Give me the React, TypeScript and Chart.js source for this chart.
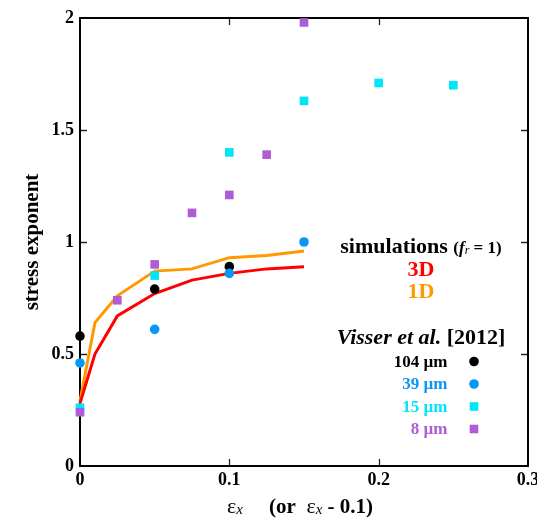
import React, { useEffect, useRef } from 'react';
import { Chart, registerables } from 'chart.js';

Chart.register(...registerables);

// ---- data ----
const simX = [0, 0.01, 0.025, 0.05, 0.075, 0.1, 0.125, 0.15];
const sim3D = [0.28, 0.5, 0.67, 0.77, 0.83, 0.86, 0.88, 0.89];
const sim1D = [0.29, 0.64, 0.76, 0.87, 0.88, 0.93, 0.94, 0.96];

const x104 = [0, 0.05, 0.1];
const y104 = [0.58, 0.79, 0.89];
const x39 = [0, 0.05, 0.1, 0.15];
const y39 = [0.46, 0.61, 0.86, 1.0];
const x15 = [0, 0.05, 0.1, 0.15, 0.2, 0.25];
const y15 = [0.26, 0.85, 1.4, 1.63, 1.71, 1.7];
const x8 = [0, 0.025, 0.05, 0.075, 0.1, 0.125, 0.15];
const y8 = [0.24, 0.74, 0.9, 1.13, 1.21, 1.39, 1.98];

const expLabels = ['104 µm', '39 µm', '15 µm', '8 µm'];
const expColors = ['#000000', '#0a96f8', '#00e6f8', '#b05cd6'];
const expStyles = ['circle', 'circle', 'rect', 'rect'];
const simLabels = ['3D', '1D'];
const simColors = ['#ff0000', '#ff9900'];

const xMin = 0;
const xMax = 0.3;
const yMin = 0;
const yMax = 2;
const xStep = 0.1;
const yStep = 0.5;

const SERIF = '"Liberation Serif", "Times New Roman", Times, serif';

const zip = (xs: number[], ys: number[]) => xs.map((x, i) => ({ x, y: ys[i] }));
const fmt = (v: any) => String(Number(Number(v).toFixed(3)));

type Run = { text: string; font: string; color?: string; dy?: number };

function runsWidth(ctx: CanvasRenderingContext2D, runs: Run[]) {
  let w = 0;
  for (const r of runs) {
    ctx.font = r.font;
    w += ctx.measureText(r.text).width;
  }
  return w;
}

function drawRuns(
  ctx: CanvasRenderingContext2D,
  runs: Run[],
  x: number,
  y: number,
  align: 'left' | 'center' | 'right'
) {
  const w = runsWidth(ctx, runs);
  let cx = align === 'left' ? x : align === 'center' ? x - w / 2 : x - w;
  ctx.textAlign = 'left';
  ctx.textBaseline = 'alphabetic';
  for (const r of runs) {
    ctx.font = r.font;
    ctx.fillStyle = r.color || '#000';
    ctx.fillText(r.text, cx, y + (r.dy || 0));
    cx += ctx.measureText(r.text).width;
  }
}

const decorPlugin = {
  id: 'decor',
  beforeDatasetsDraw(chart: any) {
    const { ctx, chartArea: a, scales } = chart;
    ctx.save();
    // ticks
    ctx.strokeStyle = '#222';
    ctx.lineWidth = 1.3;
    const T = 7;
    scales.x.ticks.forEach((t: any) => {
      if (t.value <= xMin || t.value >= xMax) return;
      const px = Math.round(scales.x.getPixelForValue(t.value)) + 0.5;
      ctx.beginPath();
      ctx.moveTo(px, a.bottom);
      ctx.lineTo(px, a.bottom - T);
      ctx.moveTo(px, a.top);
      ctx.lineTo(px, a.top + T);
      ctx.stroke();
    });
    scales.y.ticks.forEach((t: any) => {
      if (t.value <= yMin || t.value >= yMax) return;
      const py = Math.round(scales.y.getPixelForValue(t.value)) + 0.5;
      ctx.beginPath();
      ctx.moveTo(a.left, py);
      ctx.lineTo(a.left + T, py);
      ctx.moveTo(a.right, py);
      ctx.lineTo(a.right - T, py);
      ctx.stroke();
    });
    // frame
    ctx.strokeStyle = '#000';
    ctx.lineWidth = 2;
    ctx.strokeRect(a.left, a.top, a.right - a.left, a.bottom - a.top);
    ctx.restore();
  },
  afterDraw(chart: any) {
    const { ctx, chartArea: a } = chart;
    ctx.save();
    const cx = (a.left + a.right) / 2;

    // y axis title
    ctx.save();
    ctx.translate(38, (a.top + a.bottom) / 2);
    ctx.rotate(-Math.PI / 2);
    drawRuns(ctx, [{ text: 'stress exponent', font: `bold 21px ${SERIF}` }], 0, 0, 'center');
    ctx.restore();

    // x axis title
    const eps = `22px ${SERIF}`;
    const sub = `italic 15px ${SERIF}`;
    const bold = `bold 21px ${SERIF}`;
    drawRuns(
      ctx,
      [
        { text: 'ε', font: eps },
        { text: 'x', font: sub, dy: 1 },
        { text: '     (or  ', font: bold },
        { text: 'ε', font: eps },
        { text: 'x', font: sub, dy: 1 },
        { text: ' - 0.1)', font: bold },
      ],
      cx - 4,
      513,
      'center'
    );

    // legend: simulations
    const lx = 421;
    drawRuns(
      ctx,
      [
        { text: 'simulations ', font: `bold 22px ${SERIF}` },
        { text: '(', font: `bold 17px ${SERIF}` },
        { text: 'f', font: `bold italic 17px ${SERIF}` },
        { text: 'r', font: `italic 12px ${SERIF}`, dy: 1 },
        { text: ' = 1)', font: `bold 17px ${SERIF}` },
      ],
      lx,
      253,
      'center'
    );
    simLabels.forEach((lab, i) => {
      drawRuns(ctx, [{ text: lab, font: `bold 22px ${SERIF}`, color: simColors[i] }], lx, 276 + i * 22, 'center');
    });

    drawRuns(
      ctx,
      [
        { text: 'Visser et al.', font: `bold italic 22px ${SERIF}` },
        { text: ' [2012]', font: `bold 22px ${SERIF}` },
      ],
      lx,
      344,
      'center'
    );

    expLabels.forEach((lab, i) => {
      const by = 366.5 + i * 22.5;
      drawRuns(ctx, [{ text: lab, font: `bold 17px ${SERIF}`, color: expColors[i] }], 447.5, by, 'right');
      const my = by - 5;
      ctx.fillStyle = expColors[i];
      if (expStyles[i] === 'circle') {
        ctx.beginPath();
        ctx.arc(474, my, 4.8, 0, Math.PI * 2);
        ctx.fill();
      } else {
        ctx.fillRect(474 - 4.3, my - 4.3, 8.6, 8.6);
      }
    });

    ctx.restore();
  },
};

export default function App() {
  const ref = useRef<HTMLCanvasElement | null>(null);

  useEffect(() => {
    if (!ref.current) return;
    const pointDs = (label: string, xs: number[], ys: number[], i: number) => ({
      type: 'scatter' as const,
      label,
      data: zip(xs, ys),
      showLine: false,
      pointStyle: expStyles[i],
      pointRadius: expStyles[i] === 'circle' ? 4.8 : 6.1,
      pointBorderWidth: 0,
      pointBackgroundColor: expColors[i],
      pointBorderColor: expColors[i],
      clip: false as any,
    });
    const lineDs = (label: string, ys: number[], i: number) => ({
      type: 'line' as const,
      label,
      data: zip(simX, ys),
      borderColor: simColors[i],
      backgroundColor: simColors[i],
      borderWidth: 3,
      pointRadius: 0,
      tension: 0,
      fill: false,
      clip: false as any,
    });

    const chart = new Chart(ref.current, {
      type: 'scatter',
      data: {
        datasets: [
          pointDs(expLabels[3], x8, y8, 3),
          pointDs(expLabels[2], x15, y15, 2),
          pointDs(expLabels[1], x39, y39, 1),
          pointDs(expLabels[0], x104, y104, 0),
          lineDs(simLabels[0], sim3D, 0),
          lineDs(simLabels[1], sim1D, 1),
        ] as any,
      },
      options: {
        animation: false,
        responsive: false,
        maintainAspectRatio: false,
        events: [],
        layout: { padding: { top: 18, right: 9, left: 0, bottom: 0 } },
        plugins: {
          legend: { display: false },
          tooltip: { enabled: false },
          title: { display: false },
        },
        scales: {
          x: {
            type: 'linear',
            min: xMin,
            max: xMax,
            ticks: {
              stepSize: xStep,
              padding: 4,
              color: '#000',
              font: { family: SERIF, size: 18, weight: 'bold' },
              maxRotation: 0,
              callback: fmt,
            },
            grid: { display: false, drawTicks: false },
            border: { display: false },
            afterFit: (s: any) => {
              s.height = 56;
              s.paddingLeft = 0;
              s.paddingRight = 0;
            },
          },
          y: {
            type: 'linear',
            min: yMin,
            max: yMax,
            ticks: {
              stepSize: yStep,
              padding: 6,
              color: '#000',
              font: { family: SERIF, size: 18, weight: 'bold' },
              callback: fmt,
            },
            grid: { display: false, drawTicks: false },
            border: { display: false },
            afterFit: (s: any) => {
              s.width = 80;
              s.paddingTop = 0;
              s.paddingBottom = 0;
            },
          },
        },
      } as any,
      plugins: [decorPlugin],
    });
    return () => chart.destroy();
  }, []);

  return (
    <div style={{ position: 'fixed', left: 0, top: 0, width: 537, height: 522, background: '#fff' }}>
      <canvas ref={ref} width={537} height={522} style={{ width: 537, height: 522, display: 'block' }} />
    </div>
  );
}
